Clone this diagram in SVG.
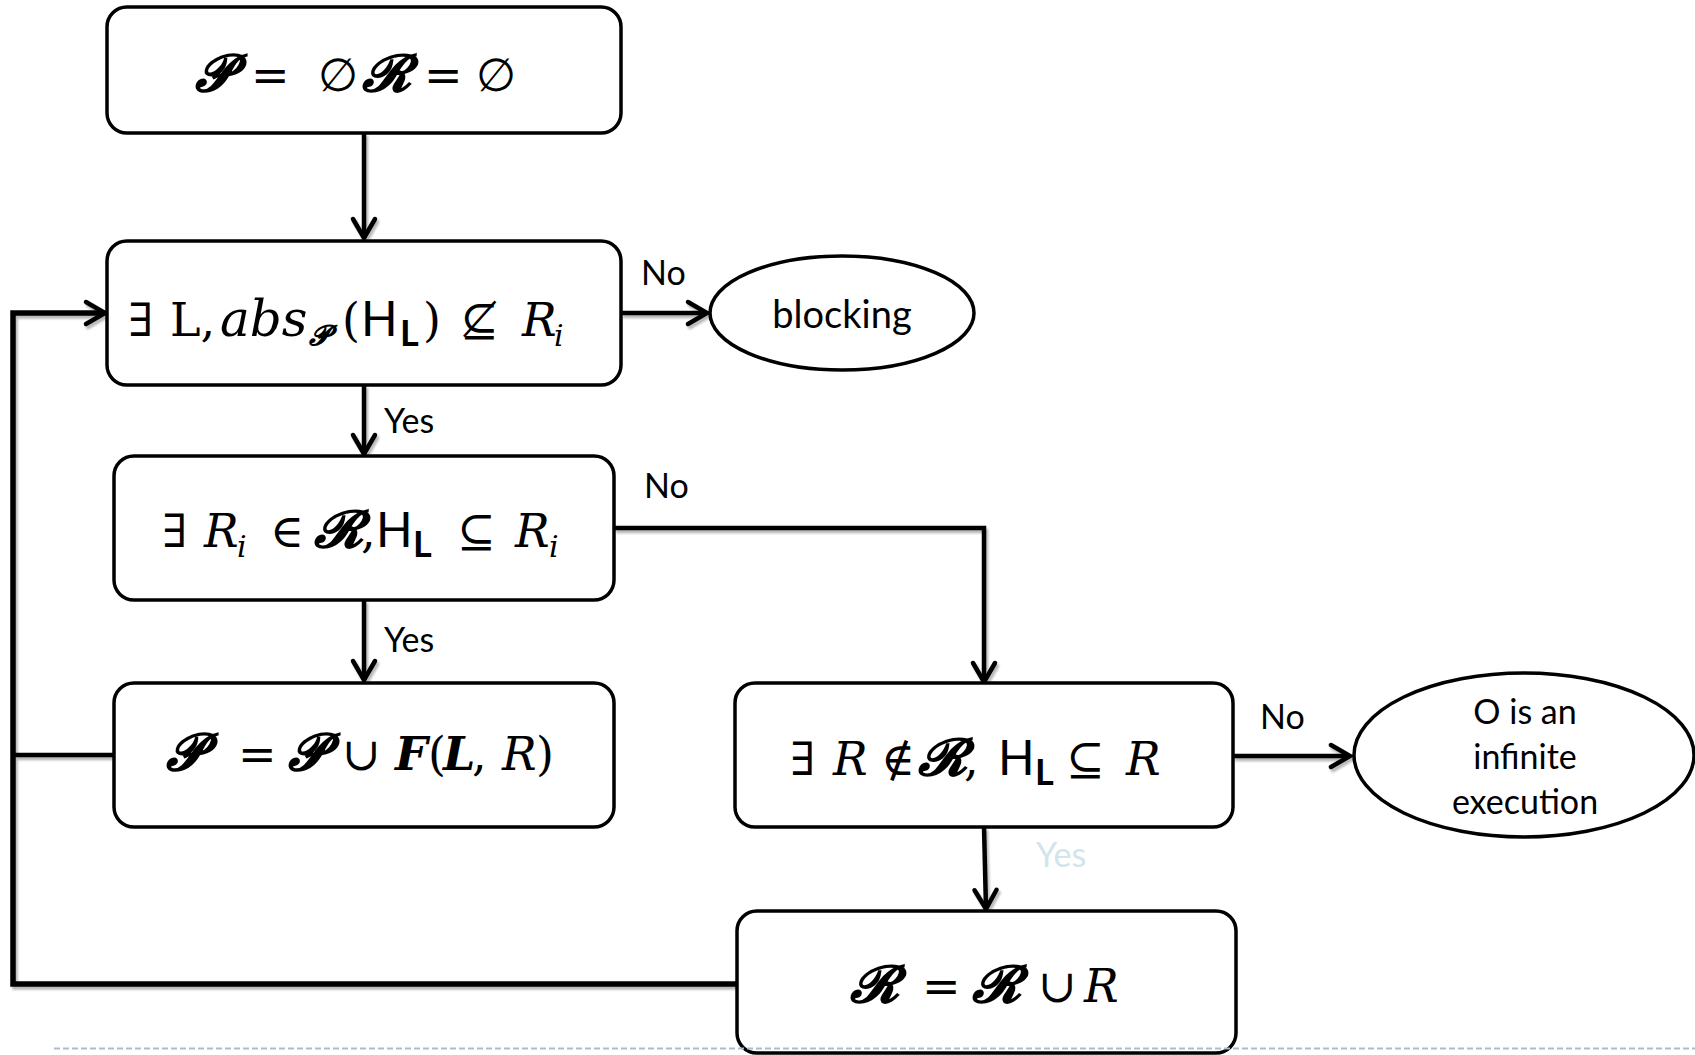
<svg xmlns="http://www.w3.org/2000/svg" width="1695" height="1055" viewBox="0 0 1695 1055">
  <style>
    .box { fill: #fff; stroke: #000; stroke-width: 3.5; }
    .oval { fill: #fff; stroke: #000; stroke-width: 3.5; }
    .wire { fill: none; stroke: #000; stroke-width: 4.5; stroke-linejoin: miter; }
    .m { font-family: "DejaVu Serif", "Liberation Serif", serif; font-size: 46px; fill: #000; }
    .it { font-style: italic; }
    .bi { font-style: italic; font-weight: bold; }
    .bs { font-family: "DejaVu Serif", "DejaVu Sans", "Noto Sans", serif; font-weight: bold; font-style: italic; font-size: 52px; }
    .sub { font-size: 30px; }
    .bs.sub { font-size: 28px; }
    .sf { font-family: Lato, "Open Sans", sans-serif; font-size: 48px; }
    .sfb { font-family: Lato, "Open Sans", sans-serif; font-weight: bold; font-size: 36px; }
    .lbl { font-family: Lato, "Open Sans", sans-serif; font-size: 34px; fill: #000; }
    .big { font-family: Lato, "Open Sans", sans-serif; font-size: 38px; fill: #000; text-anchor: middle; }
    .ov { font-size: 34px; }
    .fade { fill: #d2e5ea; }
    .sep { fill: none; stroke: #a9bdd2; stroke-width: 2; stroke-dasharray: 6 3; }
  </style>
  <defs>
    <marker id="ah" markerUnits="userSpaceOnUse" markerWidth="30" markerHeight="30" refX="20" refY="12" orient="auto" overflow="visible">
      <path d="M1,1 L20,12 L1,23" fill="none" stroke="#000" stroke-width="4.5" stroke-linecap="round" stroke-linejoin="miter"/>
    </marker>
    <filter id="shade" filterUnits="userSpaceOnUse" x="0" y="0" width="1695" height="1055">
      <feDropShadow dx="2" dy="3" stdDeviation="1" flood-color="#000" flood-opacity="0.28"/>
    </filter>
  </defs>

  <rect width="1695" height="1055" fill="#fff"/>

  <!-- flow lines -->
  <g id="connectors" filter="url(#shade)">
    <path class="wire" d="M364,133 V238" marker-end="url(#ah)"/>
    <path class="wire" d="M621,313 H707" marker-end="url(#ah)"/>
    <path class="wire" d="M364,385 V454" marker-end="url(#ah)"/>
    <path class="wire" d="M614,528 H984 V682" marker-end="url(#ah)"/>
    <path class="wire" d="M364,600 V680" marker-end="url(#ah)"/>
    <path class="wire" d="M1233,756 H1350" marker-end="url(#ah)"/>
    <path class="wire" d="M984,827 L986,909" marker-end="url(#ah)"/>
    <path class="wire" d="M114,755 H13"/>
    <path class="wire" style="stroke-width:5.5" d="M737,984 H13 V313 H105" marker-end="url(#ah)"/>
  </g>

  <!-- branch labels -->
  <g id="labels">
    <text class="lbl" x="641" y="285">No</text>
    <text class="lbl" x="644" y="498">No</text>
    <text class="lbl" x="1260" y="729">No</text>
    <text class="lbl" x="384" y="433">Yes</text>
    <text class="lbl" x="384" y="652">Yes</text>
    <text class="lbl fade" x="1036" y="867">Yes</text>
  </g>

  <g id="init">
    <rect class="box" x="107" y="7" width="514" height="126" rx="20"/>
    <text class="m" y="91"><tspan class="bs" x="195">𝓟</tspan><tspan x="251">=</tspan><tspan x="318">∅</tspan><tspan class="bs" x="362">𝓡</tspan><tspan x="424">=</tspan><tspan x="476">∅</tspan></text>
  </g>

  <g id="check-abs">
    <rect class="box" x="107" y="241" width="514" height="144" rx="20"/>
    <text class="m" y="336"><tspan x="128">∃</tspan><tspan x="170">L,</tspan><tspan class="it" x="220" style="font-size:50px">abs</tspan><tspan class="bs sub" x="309" dy="9">𝓟</tspan><tspan x="342" dy="-9">(</tspan><tspan class="sf" x="361">H</tspan><tspan class="sfb" x="400" dy="10">L</tspan><tspan x="423" dy="-10">)</tspan><tspan x="460">⊈</tspan><tspan class="it" x="522">R</tspan><tspan class="it sub" x="554" dy="10">i</tspan></text>
  </g>

  <g id="blocking">
    <ellipse class="oval" cx="842" cy="313" rx="132" ry="57"/>
    <text class="big" x="842" y="328">blocking</text>
  </g>

  <g id="check-known">
    <rect class="box" x="114" y="456" width="500" height="144" rx="20"/>
    <text class="m" y="547"><tspan x="162">∃</tspan><tspan class="it" x="204">R</tspan><tspan class="it sub" x="237" dy="10">i</tspan><tspan x="270" dy="-10">∈</tspan><tspan class="bs" x="314">𝓡</tspan><tspan x="361">,</tspan><tspan class="sf" x="376">H</tspan><tspan class="sfb" x="413" dy="10">L</tspan><tspan x="457" dy="-10">⊆</tspan><tspan class="it" x="515">R</tspan><tspan class="it sub" x="549" dy="10">i</tspan></text>
  </g>

  <g id="update-p">
    <rect class="box" x="114" y="683" width="500" height="144" rx="20"/>
    <text class="m" y="770"><tspan class="bs" x="166">𝓟</tspan><tspan x="238">=</tspan><tspan class="bs" x="288">𝓟</tspan><tspan x="342">∪</tspan><tspan class="bi" x="395">F</tspan><tspan x="428">(</tspan><tspan class="bi" x="443">L</tspan><tspan x="472">,</tspan><tspan class="it" x="502">R</tspan><tspan x="536">)</tspan></text>
  </g>

  <g id="check-new">
    <rect class="box" x="735" y="683" width="498" height="144" rx="20"/>
    <text class="m" y="775"><tspan x="790">∃</tspan><tspan class="it" x="833">R</tspan><tspan x="881">∉</tspan><tspan class="bs" x="918">𝓡</tspan><tspan x="964">,</tspan><tspan class="sf" x="998">H</tspan><tspan class="sfb" x="1035" dy="10">L</tspan><tspan x="1066" dy="-10">⊆</tspan><tspan class="it" x="1126">R</tspan></text>
  </g>

  <g id="infinite">
    <ellipse class="oval" cx="1524" cy="755" rx="170" ry="82"/>
    <text class="big ov" x="1525" y="724">O is an</text>
    <text class="big ov" x="1525" y="769">infinite</text>
    <text class="big ov" x="1525" y="814">execution</text>
  </g>

  <g id="update-r">
    <rect class="box" x="737" y="911" width="499" height="142" rx="20"/>
    <text class="m" y="1002"><tspan class="bs" x="850">𝓡</tspan><tspan x="922">=</tspan><tspan class="bs" x="972">𝓡</tspan><tspan x="1038">∪</tspan><tspan class="it" x="1084">R</tspan></text>
  </g>

  <path class="sep" d="M54,1048.5 H1695"/>
</svg>
